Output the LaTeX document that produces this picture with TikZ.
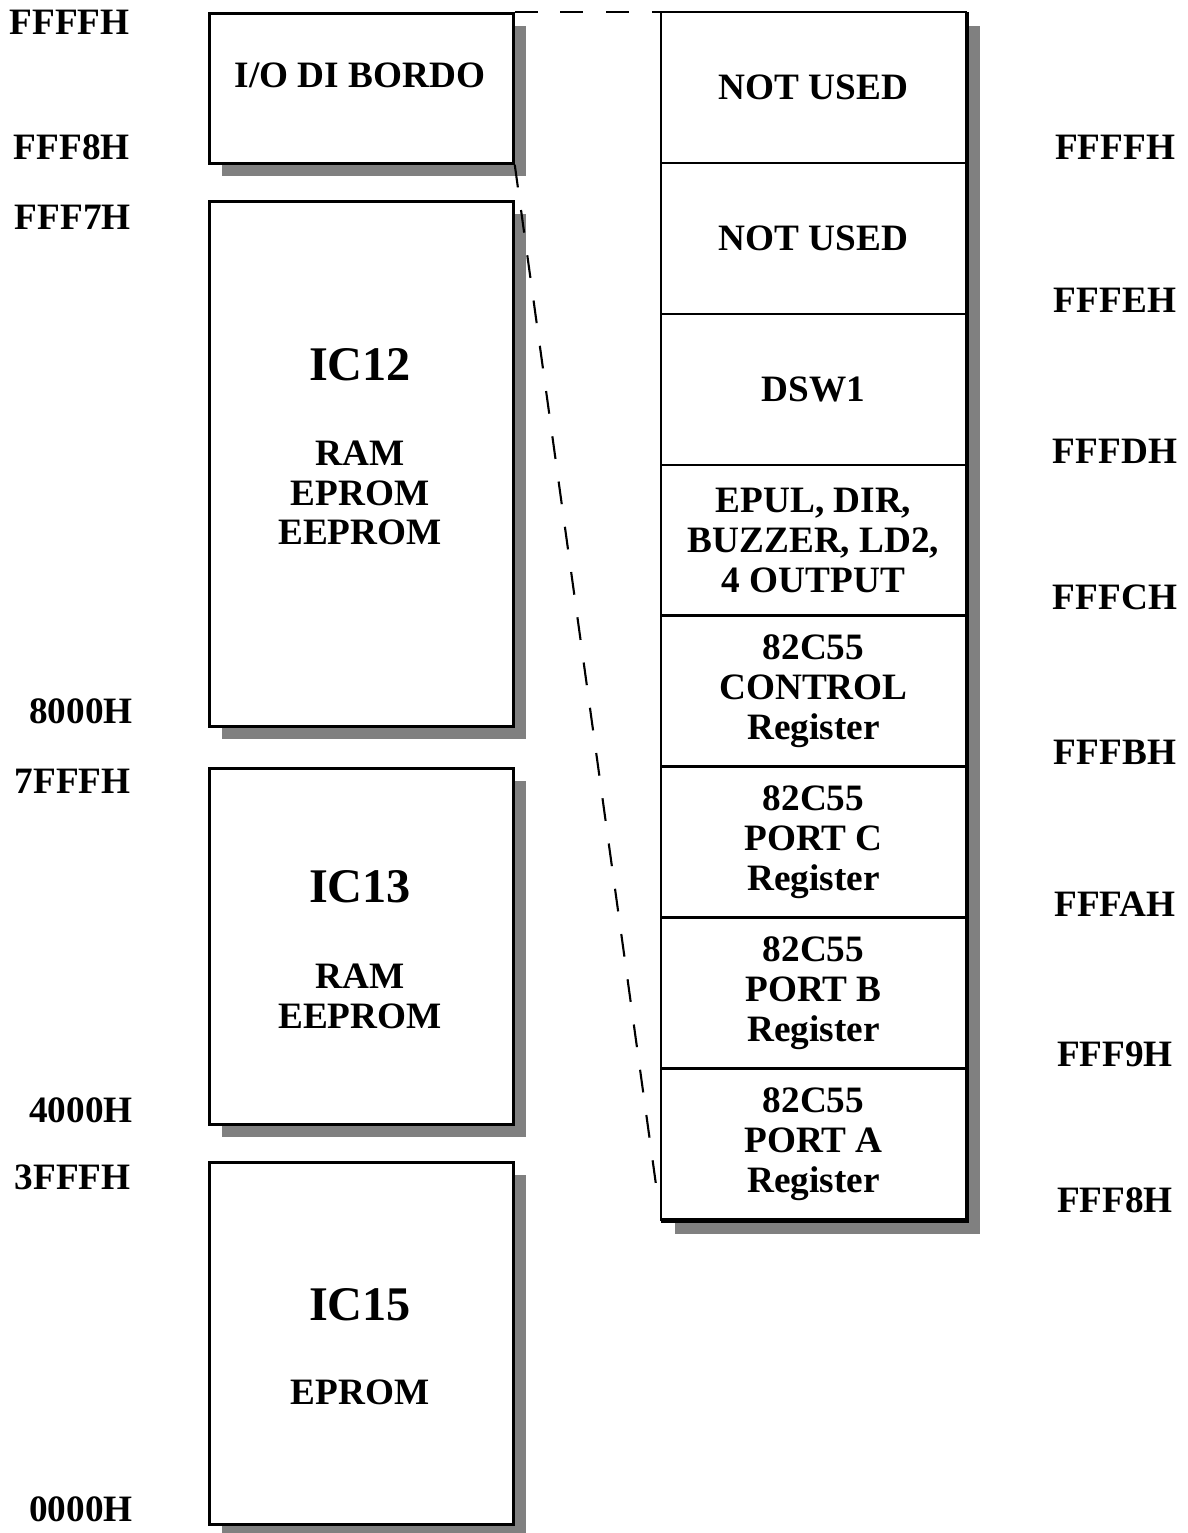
\documentclass[tikz,border=0pt]{standalone}
\usepackage{fontspec}
\setmainfont{Liberation Serif}
\usetikzlibrary{positioning,shadows}

\begin{document}
\begin{tikzpicture}[
    x=0.02cm, y=-0.02cm,
    every node/.style={font=\fontsize{21.2}{22.7}\selectfont\bfseries, align=center, inner sep=0pt},
    shade box/.style={draw, line width=1.6pt, fill=white, minimum width=6.08cm,
        drop shadow={shadow xshift=0.26cm, shadow yshift=-0.26cm, opacity=1, fill=black!50}},
    cell/.style={draw, line width=1.6pt, fill=white, outer sep=0pt, minimum width=6.1cm, minimum height=3.02cm},
    chipname/.style={font=\fontsize{27.5}{32}\selectfont\bfseries},
    addr/.style={},
    link/.style={line width=1.2pt, dash pattern=on 13pt off 13pt}
]
    \useasboundingbox (0,0) rectangle (1187,1533);

    % memory map
    \node[shade box, anchor=north west, minimum height=3.0cm] (io) at (208,12) {};
    \node[shade box, anchor=north west, minimum height=10.5cm] (ic12) at (208,200) {};
    \node[shade box, anchor=north west, minimum height=7.12cm] (ic13) at (208,767) {};
    \node[shade box, anchor=north west, minimum height=7.24cm] (ic15) at (208,1161) {};

    \node (iot) at (360,75) {I/O DI BORDO};
    \node[chipname] (ic12n) at (360,365) {IC12};
    \node (ic12t) at (360,493) {RAM\\EPROM\\EEPROM};
    \node[chipname] (ic13n) at (360,887) {IC13};
    \node (ic13t) at (360,996) {RAM\\EEPROM};
    \node[chipname] (ic15n) at (360,1305) {IC15};
    \node (ic15t) at (360,1392) {EPROM};

    % I/O detail
    \node[shade box, anchor=north west, minimum width=6.1cm, minimum height=24.16cm] (col) at (661,12) {};
    \node[cell, anchor=north west] (c1) at (661,12) {NOT USED};
    \node[cell, below=0pt of c1] (c2) {NOT USED};
    \node[cell, below=0pt of c2] (c3) {DSW1};
    \node[cell, below=0pt of c3] (c4) {EPUL, DIR,\\BUZZER, LD2,\\4 OUTPUT};
    \node[cell, below=0pt of c4] (c5) {82C55\\CONTROL\\Register};
    \node[cell, below=0pt of c5] (c6) {82C55\\PORT C\\Register};
    \node[cell, below=0pt of c6] (c7) {82C55\\PORT B\\Register};
    \node[cell, below=0pt of c7] (c8) {82C55\\PORT A\\Register};

    % addresses
    \node[addr, anchor=east] (a1) at (130,22) {FFFFH};
    \node[addr, anchor=east] (a2) at (130,147) {FFF8H};
    \node[addr, anchor=east] (a3) at (131,217) {FFF7H};
    \node[addr, anchor=east] (a4) at (133,711) {8000H};
    \node[addr, anchor=east] (a5) at (131,781) {7FFFH};
    \node[addr, anchor=east] (a6) at (133,1110) {4000H};
    \node[addr, anchor=east] (a7) at (131,1177) {3FFFH};
    \node[addr, anchor=east] (a8) at (133,1509) {0000H};

    \node[addr] (b1) at (1115,147) {FFFFH};
    \node[addr] (b2) at (1115,300) {FFFEH};
    \node[addr] (b3) at (1115,451) {FFFDH};
    \node[addr] (b4) at (1115,597) {FFFCH};
    \node[addr] (b5) at (1115,752) {FFFBH};
    \node[addr] (b6) at (1115,904) {FFFAH};
    \node[addr] (b7) at (1115,1054) {FFF9H};
    \node[addr] (b8) at (1115,1200) {FFF8H};

    \coordinate (zoomend) at (657,1192);
    \draw[link] (io.north east) -- (c1.north west);
    \draw[link] (io.south east) -- (zoomend);
\end{tikzpicture}
\end{document}
